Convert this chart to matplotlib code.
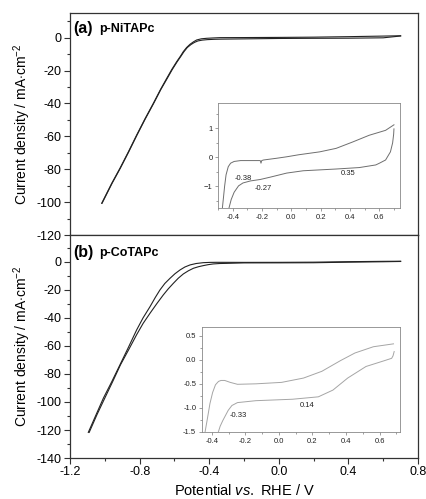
import matplotlib
matplotlib.use("Agg")
import matplotlib.pyplot as plt
from matplotlib.ticker import MultipleLocator, FixedLocator, FormatStrFormatter
import numpy as np

plt.rcParams['font.family'] = ['Liberation Sans', 'DejaVu Sans']
plt.rcParams['mathtext.fontset'] = 'custom'
plt.rcParams['mathtext.rm'] = 'Liberation Sans'
plt.rcParams['mathtext.it'] = 'Liberation Sans:italic'

# ---------------- data ----------------
# (a) p-NiTAPc LSV, two scans
ni_x1 = [-1.018, -0.96, -0.913, -0.865, -0.817, -0.77, -0.721, -0.68, -0.644, -0.615, -0.587, -0.565,
         -0.549, -0.53, -0.51, -0.49, -0.472, -0.445, -0.415, -0.38, -0.338, -0.2, 0.0, 0.2, 0.4, 0.6, 0.7]
ni_y1 = [-100.7, -88.5, -79.4, -69.5, -59.2, -49.5, -39.9, -31.5, -24.7, -19.3, -14.6, -11.2,
         -8.5, -6.0, -4.0, -2.5, -1.4, -0.7, -0.4, -0.2, 0.0, 0.05, 0.15, 0.3, 0.6, 0.95, 1.15]
ni_x2 = [-1.016, -0.958, -0.911, -0.863, -0.815, -0.768, -0.719, -0.678, -0.641, -0.612, -0.584, -0.562,
         -0.545, -0.526, -0.505, -0.485, -0.465, -0.44, -0.41, -0.37, -0.33, -0.2, 0.0, 0.2, 0.4, 0.6, 0.7]
ni_y2 = [-100.7, -88.5, -79.4, -69.5, -59.2, -49.5, -39.9, -31.5, -24.7, -19.3, -14.6, -11.2,
         -8.5, -6.0, -4.2, -2.9, -2.0, -1.5, -1.2, -1.0, -0.9, -0.75, -0.5, -0.4, -0.33, -0.1, 1.0]

# (b) p-CoTAPc LSV, two scans
co_x1 = [-1.095, -1.05, -1.008, -0.96, -0.913, -0.865, -0.817, -0.78, -0.74, -0.71, -0.683, -0.655,
         -0.625, -0.597, -0.568, -0.54, -0.51, -0.475, -0.434, -0.395, -0.357, -0.2, 0.0, 0.2, 0.4, 0.6, 0.7]
co_y1 = [-121.7, -109, -97.2, -85.5, -73.5, -61.2, -48.6, -40, -32, -25.5, -20.1, -15.5,
         -11.8, -8.6, -5.9, -3.8, -2.3, -1.3, -0.7, -0.5, -0.45, -0.5, -0.47, -0.35, 0.0, 0.25, 0.33]
co_x2 = [-1.09, -1.045, -1.0, -0.955, -0.91, -0.862, -0.817, -0.78, -0.74, -0.70, -0.664, -0.635, -0.606,
         -0.578, -0.549, -0.52, -0.491, -0.462, -0.434, -0.405, -0.377, -0.34, -0.3, -0.2, 0.0, 0.2, 0.4, 0.6, 0.7]
co_y2 = [-121.7, -109, -97.2, -85.5, -73.5, -62.5, -52, -44, -36.7, -29.7, -23.7, -19.3, -15.4,
         -11.8, -8.75, -6.5, -4.7, -3.6, -2.8, -2.1, -1.6, -1.3, -1.2, -0.87, -0.83, -0.75, -0.35, -0.05, 0.15]

# inset (a) CV, upper and lower branches
ni_cv_up_x = [-0.47, -0.462, -0.455, -0.445, -0.43, -0.414, -0.39, -0.346, -0.28, -0.225, -0.212, -0.207,
              -0.202, -0.19, -0.10, -0.032, 0.05, 0.193, 0.305, 0.418, 0.53, 0.642, 0.699]
ni_cv_up_y = [-1.74, -1.35, -1.0, -0.6, -0.32, -0.2, -0.14, -0.11, -0.11, -0.11, -0.11, -0.2,
              -0.11, -0.09, -0.03, 0.02, 0.09, 0.19, 0.31, 0.53, 0.76, 0.93, 1.12]
ni_cv_dn_x = [0.699, 0.697, 0.69, 0.675, 0.642, 0.60, 0.575, 0.463, 0.305, 0.081, -0.032, -0.144,
              -0.212, -0.279, -0.33, -0.36, -0.39, -0.41, -0.425]
ni_cv_dn_y = [0.98, 0.8, 0.5, 0.19, -0.09, -0.2, -0.26, -0.35, -0.40, -0.46, -0.54, -0.68,
              -0.76, -0.81, -0.88, -0.98, -1.2, -1.45, -1.74]

# inset (b) CV, upper and lower branches
co_cv_up_x = [-0.44, -0.425, -0.411, -0.395, -0.378, -0.36, -0.345, -0.323, -0.29, -0.247, -0.137,
              0.016, 0.147, 0.256, 0.366, 0.453, 0.563, 0.683]
co_cv_up_y = [-1.5, -1.2, -0.91, -0.68, -0.52, -0.45, -0.43, -0.43, -0.47, -0.51, -0.50,
              -0.47, -0.38, -0.24, -0.02, 0.14, 0.27, 0.33]
co_cv_dn_x = [0.687, 0.68, 0.672, 0.628, 0.519, 0.41, 0.322, 0.235, 0.081, -0.137, -0.247, -0.28,
              -0.302, -0.334, -0.35, -0.361]
co_cv_dn_y = [0.17, 0.08, 0.03, -0.02, -0.14, -0.38, -0.63, -0.77, -0.82, -0.85, -0.89, -0.95,
              -1.05, -1.26, -1.38, -1.5]

# inset peak labels
ni_lbl = ['-0.38', '-0.27', '0.35']
ni_lbl_x = [-0.33, -0.19, 0.39]
ni_lbl_y = [-0.72, -1.08, -0.55]
co_lbl = ['-0.33', '0.14']
co_lbl_x = [-0.24, 0.17]
co_lbl_y = [-1.15, -0.94]

main_xticks = [-1.2, -0.8, -0.4, 0.0, 0.4, 0.8]
main_xlabels = ['-1.2', '-0.8', '-0.4', '0.0', '0.4', '0.8']
top_yticks = list(range(0, -121, -20))
bot_yticks = list(range(0, -141, -20))

# ---------------- figure ----------------
fig = plt.figure(figsize=(4.27, 4.99), dpi=100)
ax1 = fig.add_axes([0.164, 0.529, 0.815, 0.445])
ax2 = fig.add_axes([0.164, 0.082, 0.815, 0.447])

line_c = '#222222'
for ax in (ax1, ax2):
    ax.set_xlim(-1.2, 0.8)
    ax.xaxis.set_major_locator(FixedLocator(main_xticks))
    ax.xaxis.set_minor_locator(MultipleLocator(0.2))
    ax.yaxis.set_minor_locator(MultipleLocator(10))
    ax.tick_params(which='both', direction='out', top=False, right=False,
                   labelsize=9, width=0.8, color='#333333', pad=2)
    ax.tick_params(which='major', length=4)
    ax.tick_params(which='minor', length=2.2)
    for s in ax.spines.values():
        s.set_linewidth(0.9)
        s.set_color('#333333')
    ax.set_ylabel('Current density / mA$\\cdot$cm$^{-2}$', fontsize=10, labelpad=3)

ax1.plot(ni_x1, ni_y1, color=line_c, lw=0.8)
ax1.plot(ni_x2, ni_y2, color=line_c, lw=0.8)
ax1.set_ylim(-120, 15)
ax1.set_yticks(top_yticks)
ax1.set_yticklabels([str(v) for v in top_yticks])
ax1.tick_params(axis='x', which='both', bottom=False, labelbottom=False)

ax2.plot(co_x1, co_y1, color=line_c, lw=0.8)
ax2.plot(co_x2, co_y2, color=line_c, lw=0.8)
ax2.set_ylim(-140, 19)
ax2.set_yticks(bot_yticks)
ax2.set_yticklabels([str(v) for v in bot_yticks])
ax2.set_xticklabels(main_xlabels)
ax2.set_xlabel('Potential $\\it{vs.}$ RHE / V', fontsize=10.5, labelpad=3)

ax1.text(0.008, 0.93, '(a)', transform=ax1.transAxes, fontsize=11.5, fontweight='bold', va='center')
ax1.text(0.085, 0.93, 'p-NiTAPc', transform=ax1.transAxes, fontsize=9, fontweight='bold', va='center')
ax2.text(0.008, 0.92, '(b)', transform=ax2.transAxes, fontsize=11.5, fontweight='bold', va='center')
ax2.text(0.085, 0.92, 'p-CoTAPc', transform=ax2.transAxes, fontsize=9, fontweight='bold', va='center')

# ---------------- insets ----------------
in1 = fig.add_axes([0.5105, 0.5832, 0.4262, 0.2104])
in2 = fig.add_axes([0.4724, 0.1343, 0.4637, 0.2104])

in1.plot(ni_cv_up_x, ni_cv_up_y, color='#6e6e6e', lw=0.7)
in1.plot(ni_cv_dn_x, ni_cv_dn_y, color='#6e6e6e', lw=0.7)
in1.set_xlim(-0.5, 0.74)
in1.set_ylim(-1.74, 1.87)
in1.yaxis.set_major_locator(FixedLocator([-1, 0, 1]))
in1.yaxis.set_minor_locator(MultipleLocator(0.5))
for t, x, y in zip(ni_lbl, ni_lbl_x, ni_lbl_y):
    in1.text(x, y, t, fontsize=5.5, ha='center', va='center', color='#222222')

in2.plot(co_cv_up_x, co_cv_up_y, color='#a5a5a5', lw=0.7)
in2.plot(co_cv_dn_x, co_cv_dn_y, color='#a5a5a5', lw=0.7)
in2.set_xlim(-0.46, 0.72)
in2.set_ylim(-1.5, 0.68)
in2.yaxis.set_major_locator(MultipleLocator(0.5))
in2.yaxis.set_minor_locator(MultipleLocator(0.25))
in2.yaxis.set_major_formatter(FormatStrFormatter('%.1f'))
for t, x, y in zip(co_lbl, co_lbl_x, co_lbl_y):
    in2.text(x, y, t, fontsize=5.5, ha='center', va='center', color='#222222')

for ax in (in1, in2):
    ax.xaxis.set_major_locator(FixedLocator([-0.4, -0.2, 0.0, 0.2, 0.4, 0.6]))
    ax.xaxis.set_minor_locator(MultipleLocator(0.1))
    ax.xaxis.set_major_formatter(FormatStrFormatter('%.1f'))
    ax.tick_params(which='both', direction='out', labelsize=5.5, width=0.5,
                   color='#777777', pad=1.5, labelcolor='#222222')
    ax.tick_params(which='major', length=2.5)
    ax.tick_params(which='minor', length=1.5)
    for s in ax.spines.values():
        s.set_linewidth(0.6)
        s.set_color('#888888')

fig.savefig('out.png', dpi=100)
